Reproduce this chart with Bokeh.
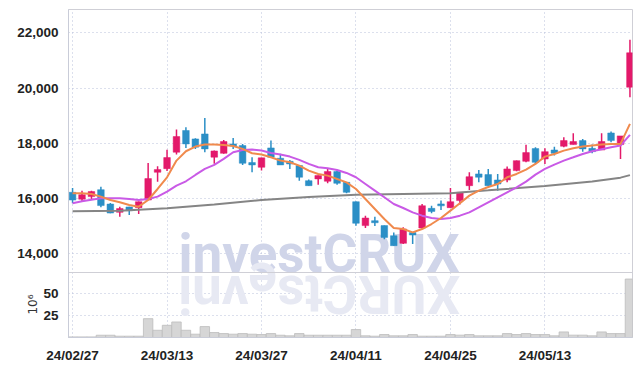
import math
from bokeh.plotting import figure
from bokeh.models import (Range1d, FixedTicker, ColumnDataSource, Label, Span)
from bokeh.embed import file_html
from bokeh.resources import INLINE

# ---------------- data ----------------
opens  = [16230, 15980, 16075, 16325, 15805, 15505, 15700, 15675, 15950, 16955,
          17085, 17680, 18465, 18160, 18340, 17500, 17640, 17980, 17920, 17305,
          17135, 17835, 17460, 17350, 17195, 16650, 16715, 16630, 16980, 16590,
          15890, 15025, 15205, 15025, 14660, 14385, 14780, 14940, 15650, 15810,
          15675, 15930, 16470, 16895, 16870, 16675, 16675, 17015, 17350, 17810,
          17435, 17760, 17895, 17955, 18100, 17820, 17760, 18375, 17955, 20030]
closes = [15950, 16145, 16255, 15750, 15480, 15640, 15565, 15890, 16725, 17050,
          17485, 18245, 17980, 17860, 17800, 17725, 18065, 17905, 17280, 17220,
          17475, 17500, 17220, 17255, 16775, 16470, 16835, 16980, 16555, 16230,
          15110, 15300, 15130, 14600, 14300, 14905, 14685, 15745, 15540, 15740,
          15890, 16230, 16795, 16775, 16470, 16530, 17075, 17375, 17665, 17315,
          17700, 17640, 18100, 18065, 17800, 17700, 18065, 18100, 18270, 21275]
highs  = [16390, 16290, 16290, 16435, 15840, 15710, 15710, 15900, 17290, 17170,
          17765, 18500, 18585, 18180, 18920, 17740, 18125, 18195, 17980, 17500,
          17475, 18100, 17620, 17400, 17195, 16690, 16835, 17075, 17015, 16600,
          15900, 15385, 15350, 15025, 14780, 14965, 14780, 15810, 15745, 15930,
          16390, 16230, 16955, 17040, 17075, 16895, 17160, 17380, 17945, 17860,
          17820, 17880, 18220, 18365, 18160, 17955, 18365, 18425, 18270, 21745]
lows   = [15830, 15900, 15975, 15690, 15470, 15350, 15410, 15445, 15950, 16615,
          17000, 17595, 17835, 17800, 17680, 17260, 17620, 17800, 17220, 16955,
          17015, 17500, 17220, 17075, 16650, 16470, 16505, 16555, 16505, 16200,
          15020, 14940, 15010, 14530, 14300, 14360, 14360, 14905, 15470, 15590,
          15675, 15785, 16315, 16590, 16470, 16290, 16590, 16990, 17315, 17255,
          17255, 17560, 17860, 17955, 17700, 17640, 17760, 18040, 17435, 19670]
volumes = [0.7, 0.7, 0.7, 2.6, 2.6, 1.5, 1.5, 1.5, 21.6, 8.3,
           14.0, 17.8, 8.3, 3.8, 12.5, 5.7, 4.5, 3.8, 4.5, 3.8,
           3.4, 4.5, 2.6, 1.9, 4.5, 2.6, 2.6, 2.6, 2.6, 2.6,
           9.1, 1.9, 1.5, 3.4, 1.9, 1.9, 3.4, 1.5, 1.5, 1.5,
           3.4, 2.7, 3.4, 1.9, 1.9, 1.9, 4.5, 3.4, 4.5, 3.4,
           3.4, 1.9, 6.4, 2.7, 2.7, 1.9, 6.4, 4.5, 4.5, 67.0]
ma_short = [16194, 16194, 16170, 16073, 15952, 15868, 15771, 15711, 15952, 16350,
            16773, 17376, 17714, 17883, 17956, 17956, 17944, 17907, 17799, 17642,
            17594, 17497, 17376, 17316, 17195, 17014, 16894, 16833, 16713, 16590,
            16351, 15989, 15627, 15264, 14939, 14902, 14782, 14902, 15083, 15301,
            15566, 15832, 16109, 16290, 16420, 16531, 16772, 16893, 17050, 17255,
            17520, 17617, 17738, 17822, 17883, 17919, 17955, 17979, 17979, 18703]
ma_mid = [15832, 15904, 15964, 16013, 16013, 16013, 15989, 15952, 15989, 16073,
          16254, 16471, 16628, 16857, 17075, 17220, 17437, 17678, 17763, 17775,
          17739, 17654, 17594, 17521, 17401, 17256, 17135, 17099, 17039, 16930,
          16773, 16532, 16290, 16049, 15808, 15663, 15506, 15385, 15301, 15264,
          15301, 15385, 15506, 15687, 15868, 16048, 16229, 16410, 16615, 16868,
          17074, 17231, 17376, 17496, 17617, 17714, 17786, 17858, 17919, 18305]
ma_long_idx = [0, 5, 10, 15, 20, 25, 30, 35, 40, 44, 50, 55, 58, 59]
ma_long = [15545, 15565, 15650, 15790, 15950, 16060, 16140, 16170, 16200, 16300,
           16460, 16620, 16760, 16850]
tick_idx = [0, 10, 20, 30, 40, 50]
tick_labels = ['24/02/27', '24/03/13', '24/03/27', '24/04/11', '24/04/25', '24/05/13']
price_ticks = [14000, 16000, 18000, 20000, 22000]
vol_ticks = [25, 50]
vol_unit_label = "10\u2076"
watermark = "investCRUX"

# ---------------- styles / layout ----------------
UP = "#e3196a"
DOWN = "#2b8fc6"
GRID = "#b9c0da"
AXIS = "#c9ccd8"
TICKFONT = "Liberation Sans"
W, H = 640, 365
FRAME_L, FRAME_W = 68, 564
TOP_PAD, MAIN_H, VOL_H, BOT_PAD = 9, 263, 65, 28
X0, X1 = -0.43, 59.27
P_LO, P_HI = 13330, 22840          # price span of the upper panel
V_HI = 74.5                        # volume span of the lower panel
FRAME_H = MAIN_H + VOL_H
P_BOTTOM = P_HI - FRAME_H / MAIN_H * (P_HI - P_LO)
V_TOP = V_HI * FRAME_H / VOL_H

def px_to_x(px):
    return X0 + (px - FRAME_L) / FRAME_W * (X1 - X0)

def px_to_price(py):
    return P_HI - (py - TOP_PAD) / MAIN_H * (P_HI - P_LO)

def vol_to_price(v):
    return P_BOTTOM + v / V_TOP * (P_HI - P_BOTTOM)

n = len(opens)
idx = list(range(n))
src = ColumnDataSource(dict(
    x=idx, high=highs, low=lows,
    top=[max(o, c) for o, c in zip(opens, closes)],
    bottom=[min(o, c) for o, c in zip(opens, closes)],
    color=[UP if c >= o else DOWN for o, c in zip(opens, closes)],
    vol=volumes, s=ma_short, m=ma_mid,
))

p = figure(width=W, height=H, output_backend="svg", toolbar_location=None,
           x_range=Range1d(X0, X1), y_range=Range1d(P_BOTTOM, P_HI),
           min_border_left=FRAME_L, min_border_right=W - FRAME_L - FRAME_W,
           min_border_top=TOP_PAD, min_border_bottom=BOT_PAD)
p.extra_y_ranges = {"vol": Range1d(0, V_TOP)}
p.background_fill_color = "white"
p.border_fill_color = "white"
p.outline_line_color = "#cfcfd6"

# left axis: price ticks on the upper panel, volume ticks on the lower panel
vt_pos = [vol_to_price(v) for v in vol_ticks]
ya = p.yaxis[0]
ya.ticker = FixedTicker(ticks=price_ticks + vt_pos)
overrides = {t: f"{t:,}" for t in price_ticks}
overrides.update({pos: str(v) for pos, v in zip(vt_pos, vol_ticks)})
ya.major_label_overrides = overrides
xa = p.xaxis[0]
xa.ticker = FixedTicker(ticks=tick_idx)
xa.major_label_overrides = {t: l for t, l in zip(tick_idx, tick_labels)}
for ax, size, standoff in ((ya, "13.5px", 4), (xa, "13.5px", 4)):
    ax.axis_line_color = AXIS
    ax.major_tick_line_color = None
    ax.minor_tick_line_color = None
    ax.major_label_standoff = standoff
    ax.major_label_text_font = TICKFONT
    ax.major_label_text_font_size = size
    ax.major_label_text_font_style = "bold"
    ax.major_label_text_color = "#222222"

for g in (p.xgrid, p.ygrid):
    g.grid_line_color = GRID
    g.grid_line_dash = "1 3"
    g.grid_line_width = 1

# panel separator
p.add_layout(Span(location=P_LO, dimension="width", line_color="#cfcfd6", line_width=1))

# unit label of the volume panel (in the left side panel, so it is not clipped)
p.add_layout(Label(x=px_to_x(32.5), y=px_to_price(304), text=vol_unit_label,
                   text_font="DejaVu Sans", text_font_size="12px",
                   text_color="#333333",
                   text_align="center", text_baseline="middle", angle=math.pi / 2),
             "left")

# watermark and its reflection
wm_font = "Roboto"
wm_size = 53
descent = 12
p.add_layout(Label(x=px_to_x(178), y=px_to_price(272 + descent), text=watermark,
                   text_font=wm_font, text_font_size=f"{wm_size}px", text_font_style="bold",
                   text_color="#d0d5e9", text_align="left",
                   text_baseline="bottom", level="underlay"))
adv = [0.25, 0.55, 0.50, 0.53, 0.51, 0.33, 0.65, 0.63, 0.65, 0.63]
scale = 282 / (sum(adv) * wm_size)
cur = 178.0
for ch, a in zip(watermark, adv):
    w = a * wm_size * scale
    p.add_layout(Label(x=px_to_x(cur + w / 2), y=px_to_price(274 - descent), text=ch,
                       text_font=wm_font, text_font_size=f"{wm_size}px",
                       text_font_style="bold", text_color="#e7e9f3",
                       text_align="center", text_baseline="bottom",
                       angle=math.pi, level="underlay"))
    cur += w

# candles and moving averages
p.segment(x0="x", y0="high", x1="x", y1="low", color="color", line_width=1.5, source=src)
p.vbar(x="x", top="top", bottom="bottom", width=0.7, fill_color="color",
       line_color="color", line_width=0.5, source=src)
p.line(ma_long_idx, ma_long, line_color="#858585", line_width=2)
p.line(x="x", y="m", line_color="#c95ae6", line_width=2, source=src)
p.line(x="x", y="s", line_color="#f08a4d", line_width=2, source=src)

# volume
p.vbar(x="x", top="vol", bottom=0, width=1.0, fill_color="#d6d6d6",
       line_color="#bdbdbd", line_width=0.8, source=src, y_range_name="vol")

open("out.html", "w").write(file_html(p, INLINE))
